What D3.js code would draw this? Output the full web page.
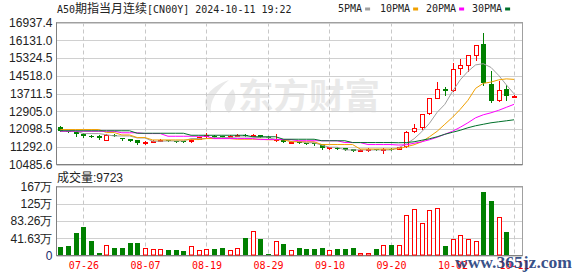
<!DOCTYPE html>
<html>
<head>
<meta charset="utf-8">
<script src="https://cdn.jsdelivr.net/npm/d3@7"></script>
<style>
  body { margin: 0; background: #fff; }
  svg { display: block; }
</style>
</head>
<body>
<svg id="chart" width="578" height="276"></svg>
<script>
// ---- data ----
const dates = ["07-26", "08-07", "08-19", "08-29", "09-10", "09-20", "10-02", "10-11"];
const dateIdx = [3, 11, 19, 27, 35, 43, 51, 59];
const priceTicks = [10485.6, 11292.0, 12098.5, 12905.0, 13711.5, 14518.0, 15324.5, 16131.0, 16937.4];
const volTicks = [0, 416300, 832600, 1248900, 1665200];
const volTickLabels = ["0", "41.63万", "83.26万", "125万", "167万"];

const open  = [12200,11995,11965,11890,11800,11800,11620,11845,11690,11635,11605,11480,11530,11595,11600,11560,11555,11555,11660,11785,
               11800,11770,11765,11800,11845,11775,11830,11740,11590,11590,11500,11510,11465,11470,11395,11235,11255,11230,11180,11120,
               11140,11200,11170,11210,11190,11330,12009,12190,12825,13523,13930,13854,14865,15020,15473,15940,14157,13400,13900,13590];
const close = [12020,11960,11850,11800,11755,11695,11810,11785,11635,11575,11440,11520,11550,11620,11555,11530,11525,11600,11715,11825,
               11725,11745,11795,11820,11775,11830,11735,11715,11640,11500,11520,11465,11440,11400,11225,11260,11210,11165,11120,11165,
               11200,11150,11190,11165,11260,11982,12163,12766,13505,13900,13840,14838,15020,15473,15926,14203,13355,13886,13595,13600];
const high  = [12230,12010,11975,11920,11815,11810,11890,11870,11705,11650,11620,11560,11605,11650,11615,11575,11570,11650,11740,11900,
               11815,11800,11810,11875,11880,11850,11845,11760,11890,11600,11540,11520,11475,11480,11410,11290,11265,11240,11190,11180,
               11215,11210,11240,11225,11300,11990,12313,12798,13520,14230,14005,15110,15290,15480,15930,16450,14718,14262,14080,13640];
const low   = [12000,11940,11790,11740,11740,11630,11610,11770,11615,11560,11395,11420,11500,11560,11540,11515,11510,11500,11645,11740,
               11715,11730,11750,11795,11760,11760,11720,11700,11560,11490,11480,11440,11430,11390,11200,11200,11200,11150,11100,11110,
               11120,11130,11030,11150,11170,11300,11950,12100,12766,13500,13660,13840,14611,14747,15230,14112,13323,13355,13400,13560];
const volume = [200000,241000,555000,676000,362000,72000,258000,193000,193000,290000,290000,193000,162000,162000,121000,121000,97000,234000,138000,162000,
                145000,169000,138000,186000,434000,596000,410000,48000,355000,273000,138000,169000,145000,145000,193000,138000,145000,145000,169000,72000,
                56000,145000,265000,265000,265000,989000,1127000,789000,1103000,1151000,241000,403000,483000,403000,362000,1544000,1327000,941000,579000,9723];

const ma5  = [12009,12009,12009,11891,11891,11891,11837,11782,11782,11782,11692,11692,11542,11542,11556,11556,11556,11664,11664,11664,
              11710,11710,11710,11737,11737,11737,11701,11701,11633,11633,11542,11542,11474,11474,11361,11270,11270,11148,11148,11148,
              11148,11148,11148,11148,11247,11429,11655,11973,12358,12857,13220,13809,14331,14716,15011,15065,14897,14535,14104,13696];
const ma10 = [12073,12073,12073,12073,12073,12073,11936,11936,11828,11828,11710,11710,11601,11601,11601,11601,11601,11619,11619,11664,
              11664,11664,11664,11633,11633,11633,11633,11610,11610,11610,11519,11519,11519,11519,11392,11392,11392,11392,11392,11188,
              11188,11188,11188,11188,11202,11293,11383,11519,11746,11995,12313,12630,12993,13401,13945,14172,14231,14331,14376,14353];
const ma20 = [11995,11995,11995,11995,11995,11995,11995,11995,11927,11927,11927,11891,11891,11891,11769,11769,11769,11769,11769,11769,
              11664,11664,11664,11664,11664,11664,11619,11619,11619,11619,11619,11565,11565,11565,11565,11565,11565,11483,11483,11483,
              11392,11392,11392,11392,11370,11383,11451,11519,11610,11723,11859,11995,12177,12381,12608,12744,12835,12948,13084,13220];
const ma30 = [12018,12018,12018,12018,12018,12018,12018,12018,12018,12018,11905,11905,11905,11905,11905,11905,11905,11814,11814,11814,
              11814,11814,11814,11814,11814,11746,11746,11746,11746,11633,11633,11633,11633,11633,11565,11565,11565,11565,11483,11483,
              11483,11483,11483,11483,11474,11483,11519,11587,11655,11746,11859,11950,12041,12154,12245,12313,12381,12426,12471,12517];

const maNames = ["5PMA", "10PMA", "20PMA", "30PMA"];

// ---- layout ----
const left = 56.5, right = 522.5;
const mainTop = 22.5, mainBot = 164.5;
const volTop = 186.5, volBot = 255.5;
const red = "#ff0000", green = "#008000";
const maColors = ["#a0a0a0", "#f0a000", "#ff00ff", "#00702a"];
const mono = "'DejaVu Sans Mono', monospace";
const cjk = "'Noto Sans CJK SC', sans-serif";
const sans = "'Liberation Sans', Arial, sans-serif";

const svg = d3.select("#chart");

const x = d3.scaleLinear().domain([-0.5, 60.1]).range([left, right]);
const y = d3.scaleLinear().domain([10485.6, 16937.4]).range([mainBot, mainTop]);
const vy = d3.scaleLinear().domain([0, 1665200]).range([volBot, volTop]);
const px = i => Math.round(x(i));

// watermark (behind everything)
const wm = svg.append("g").attr("fill", "#e9e9e9");
wm.append("path").attr("d", "M229 80 C206 88 199 104 211 113 C209 101 217 90 229 80 Z");
wm.append("path").attr("d", "M233 89 C223 98 222 108 229 113 C236 105 237 96 233 89 Z");
wm.append("text")
  .attr("x", 238).attr("y", 109)
  .attr("font-family", cjk).attr("font-weight", 700).attr("font-size", 35)
  .attr("textLength", 142).attr("lengthAdjust", "spacingAndGlyphs")
  .text("东方财富");

// grids
const grid = svg.append("g");
priceTicks.forEach(v => {
  const yy = Math.round(y(v)) + 0.5;
  grid.append("line").attr("x1", left).attr("x2", right).attr("y1", yy).attr("y2", yy)
    .attr("stroke", "#d0d0d0");
});
volTicks.forEach(v => {
  const yy = Math.round(vy(v)) + 0.5;
  grid.append("line").attr("x1", left).attr("x2", right).attr("y1", yy).attr("y2", yy)
    .attr("stroke", "#d0d0d0");
});
dateIdx.forEach(i => {
  const xx = px(i) + 0.5;
  [[mainTop, mainBot], [volTop, volBot]].forEach(r => {
    grid.append("line").attr("x1", xx).attr("x2", xx).attr("y1", r[0]).attr("y2", r[1])
      .attr("stroke", "#c8c8c8").attr("stroke-dasharray", "4,3");
  });
});

// frames
[[mainTop, mainBot], [volTop, volBot]].forEach(r => {
  svg.append("rect").attr("x", left).attr("y", r[0])
    .attr("width", right - left).attr("height", r[1] - r[0])
    .attr("fill", "none").attr("stroke", "#a0a0a0");
  svg.append("line").attr("x1", left).attr("x2", left).attr("y1", r[0]).attr("y2", r[1]).attr("stroke", "#808080");
  svg.append("line").attr("x1", left).attr("x2", right).attr("y1", r[1]).attr("y2", r[1]).attr("stroke", "#808080");
});

// candles
const candles = svg.append("g");
d3.range(open.length).forEach(i => {
  const up = close[i] >= open[i];
  const c = up ? red : green;
  const cx = px(i);
  candles.append("line")
    .attr("x1", cx + 0.5).attr("x2", cx + 0.5)
    .attr("y1", Math.round(y(high[i]))).attr("y2", Math.round(y(low[i])) + 1)
    .attr("stroke", c);
  const top = Math.round(y(Math.max(open[i], close[i])));
  const bot = Math.round(y(Math.min(open[i], close[i])));
  if (up) {
    candles.append("rect")
      .attr("x", cx - 1.5).attr("y", top + 0.5)
      .attr("width", 4).attr("height", Math.max(bot - top, 1))
      .attr("fill", "#fff").attr("stroke", c);
  } else {
    candles.append("rect")
      .attr("x", cx - 2).attr("y", top)
      .attr("width", 5).attr("height", Math.max(bot - top, 1))
      .attr("fill", c);
  }
});

// moving averages
const line = d3.line().x((d, i) => x(i)).y(d => y(d));
[ma5, ma10, ma20, ma30].forEach((arr, k) => {
  svg.append("path").datum(arr)
    .attr("d", line).attr("fill", "none")
    .attr("stroke", maColors[k]).attr("stroke-width", 1);
});

// volume bars
const vols = svg.append("g");
volume.forEach((v, i) => {
  const up = close[i] >= open[i];
  const cx = px(i);
  const top = Math.round(vy(v));
  const h = Math.round(volBot - 0.5) - top;
  if (h < 1) return;
  if (up) {
    vols.append("rect")
      .attr("x", cx - 1.5).attr("y", top + 0.5)
      .attr("width", 4).attr("height", h - 0.5)
      .attr("fill", "#fff").attr("stroke", red);
  } else {
    vols.append("rect")
      .attr("x", cx - 2).attr("y", top)
      .attr("width", 5).attr("height", h)
      .attr("fill", green);
  }
});

// axes
const yAxis = svg.append("g").attr("transform", `translate(${left},0)`)
  .call(d3.axisLeft(y).tickValues(priceTicks).tickFormat(d => d.toFixed(1)).tickSize(0).tickPadding(4));
const vAxis = svg.append("g").attr("transform", `translate(${left},0)`)
  .call(d3.axisLeft(vy).tickValues(volTicks).tickFormat((d, i) => volTickLabels[i]).tickSize(0).tickPadding(4));
[yAxis, vAxis].forEach(g => {
  g.select(".domain").remove();
  g.selectAll("text").attr("font-family", sans).attr("font-size", 12).attr("fill", "#222");
});
vAxis.selectAll("text").filter(d => d === 0).attr("fill", "#1a2a6a");

const xAxis = svg.append("g").attr("transform", `translate(0,${volBot})`)
  .call(d3.axisBottom(x).tickValues(dateIdx).tickFormat((d, i) => dates[i]).tickSize(0).tickPadding(6));
xAxis.select(".domain").remove();
xAxis.selectAll("text").attr("font-family", mono).attr("font-size", 10).attr("fill", red);

// title
const title = svg.append("text").attr("x", 57).attr("y", 13).attr("fill", "#222").attr("font-size", 10);
title.append("tspan").attr("font-family", mono).text("A50");
title.append("tspan").attr("font-family", cjk).attr("font-size", 12).text("期指当月连续");
title.append("tspan").attr("font-family", mono).text("[CN00Y] 2024-10-11 19:22");

// legend
const legX = [338, 380, 426, 472];
maNames.forEach((name, k) => {
  const t = svg.append("text").attr("x", legX[k]).attr("y", 12)
    .attr("font-family", mono).attr("font-size", 10).attr("fill", "#222").text(name);
  const w = t.node().getComputedTextLength();
  svg.append("rect").attr("x", legX[k] + w + 3).attr("y", 7.5)
    .attr("width", 5).attr("height", 3).attr("fill", maColors[k]);
});

// volume caption
const cap = svg.append("text").attr("x", 57).attr("y", 181.5).attr("fill", "#222").attr("font-size", 12);
cap.append("tspan").attr("font-family", cjk).text("成交量");
cap.append("tspan").attr("font-family", sans).text(":" + volume[volume.length - 1]);

// site watermark
svg.append("text").attr("x", 455).attr("y", 268)
  .attr("font-family", "'Liberation Serif', serif").attr("font-weight", 700).attr("font-size", 17)
  .attr("textLength", 117).attr("lengthAdjust", "spacingAndGlyphs")
  .attr("fill", "#1d3b7a").attr("fill-opacity", 0.9)
  .text("www.365jz.com");
</script>
</body>
</html>
